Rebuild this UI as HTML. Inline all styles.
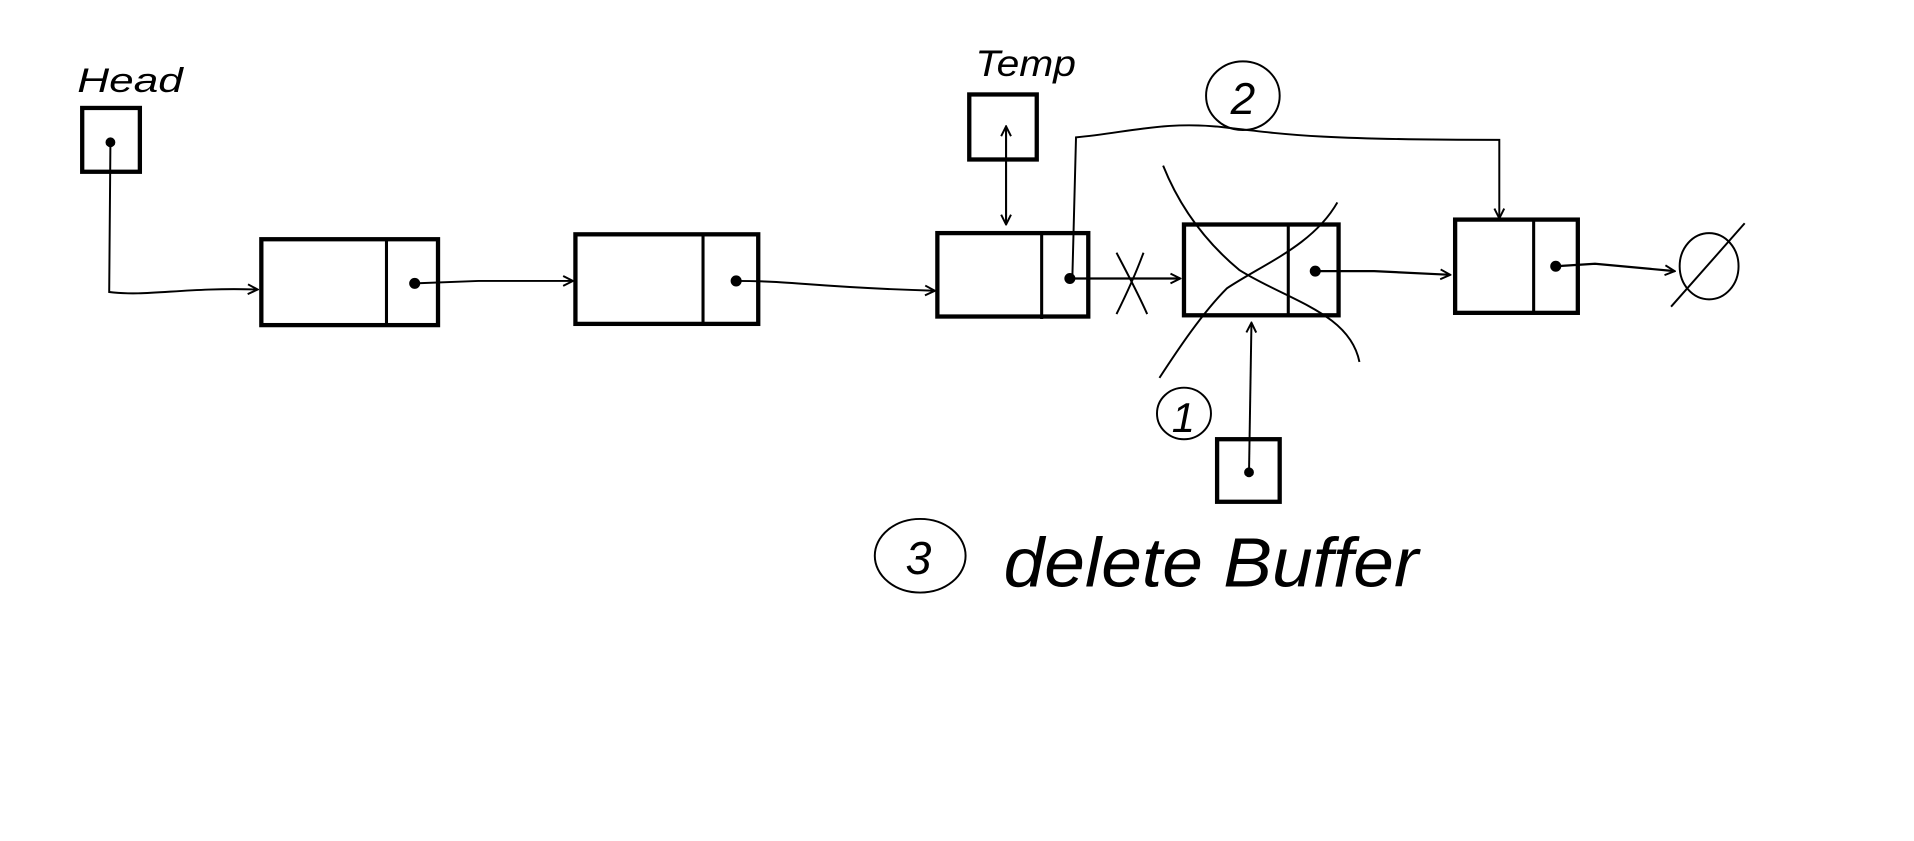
<!DOCTYPE html>
<html><head><meta charset="utf-8"><style>html,body{margin:0;padding:0;background:#fff}svg{display:block}</style></head>
<body>
<svg width="1914" height="841" viewBox="0 0 1560 685.5" preserveAspectRatio="none" xmlns="http://www.w3.org/2000/svg">
<defs>
<marker id="a" markerWidth="10" markerHeight="10" refX="9" refY="5" orient="auto" markerUnits="userSpaceOnUse"><path d="M1,1 L9,5 L1,9" fill="none" stroke="#000" stroke-width="1.6"/></marker>
</defs>
<g fill="none" stroke="#000">
<rect x="67" y="88" width="47" height="52" stroke-width="3.5"/>
<circle cx="90" cy="116" r="3.5" fill="#000"/>
<path d="M90,116 L89,238 C120,242 150,234 210,236" stroke-width="1.6" marker-end="url(#a)"/>
<rect x="213" y="195" width="144" height="70" stroke-width="3.5"/>
<line x1="315" y1="195" x2="315" y2="265" stroke-width="2.5"/>
<circle cx="338" cy="231" r="4" fill="#000"/>
<path d="M338,231 L390,229 L467,229" stroke-width="1.6" marker-end="url(#a)"/>
<rect x="469" y="191" width="149" height="73" stroke-width="3.5"/>
<line x1="573" y1="191" x2="573" y2="264" stroke-width="2.5"/>
<circle cx="600" cy="229" r="4" fill="#000"/>
<path d="M600,229 C650,229 660,234 762,237" stroke-width="1.6" marker-end="url(#a)"/>
<rect x="764" y="190" width="123" height="68" stroke-width="3.5"/>
<line x1="849" y1="190" x2="849" y2="260" stroke-width="2.5"/>
<circle cx="872" cy="227" r="4" fill="#000"/>
<rect x="790" y="77" width="55" height="53" stroke-width="3.5"/>
<path d="M820,183 L820,103" stroke-width="1.6" marker-end="url(#a)"/>
<path d="M820,103 L820,183" stroke-width="1.6" marker-end="url(#a)"/>
<path d="M874,227 L877,112 C920,108 950,98 1000,104 C1050,110 1080,114 1222,114 L1222,178" stroke-width="1.6" marker-end="url(#a)"/>
<path d="M874,227 L962,227" stroke-width="1.8" marker-end="url(#a)"/>
<path d="M910,206 C920,225 928,240 935,256 M932,206 C925,225 918,240 910,256" stroke-width="1.6"/>
<rect x="965" y="183" width="126" height="74" stroke-width="3.5"/>
<line x1="1050" y1="183" x2="1050" y2="257" stroke-width="2.5"/>
<circle cx="1072" cy="221" r="4" fill="#000"/>
<path d="M948,135 C960,165 980,195 1010,220 C1050,245 1100,255 1108,295" stroke-width="1.6"/>
<path d="M1090,165 C1070,200 1030,215 1000,235 C980,255 960,285 945,308" stroke-width="1.6"/>
<path d="M1072,221 L1120,221 L1182,224" stroke-width="1.8" marker-end="url(#a)"/>
<rect x="1186" y="179" width="100" height="76" stroke-width="3.5"/>
<line x1="1250" y1="179" x2="1250" y2="255" stroke-width="2.5"/>
<circle cx="1268" cy="217" r="4" fill="#000"/>
<path d="M1268,217 L1300,215 L1365,221" stroke-width="1.8" marker-end="url(#a)"/>
<ellipse cx="1393" cy="217" rx="24" ry="27" stroke-width="1.6"/>
<line x1="1422" y1="182" x2="1362" y2="250" stroke-width="1.6"/>
<rect x="992" y="358" width="51" height="51" stroke-width="3.5"/>
<circle cx="1018" cy="385" r="3.5" fill="#000"/>
<path d="M1018,385 L1020,263" stroke-width="1.6" marker-end="url(#a)"/>
<ellipse cx="965" cy="337" rx="22" ry="21" stroke-width="1.6"/>
<ellipse cx="1013" cy="78" rx="30" ry="28" stroke-width="1.6"/>
<ellipse cx="750" cy="453" rx="37" ry="30" stroke-width="1.6"/>
</g>
<g font-family="Liberation Sans, sans-serif" font-style="italic" fill="#000">
<text x="63" y="75" font-size="28" textLength="86" lengthAdjust="spacingAndGlyphs">Head</text>
<text x="795" y="62" font-size="30" textLength="82" lengthAdjust="spacingAndGlyphs">Temp</text>
<text x="1003" y="93" font-size="36">2</text>
<text x="955" y="352" font-size="34">1</text>
<text x="738" y="468" font-size="38">3</text>
<text transform="translate(818,478) scale(1,1.35)" x="0" y="0" font-size="42" textLength="338" lengthAdjust="spacingAndGlyphs">delete Buffer</text>
</g>
</svg>
</body></html>
